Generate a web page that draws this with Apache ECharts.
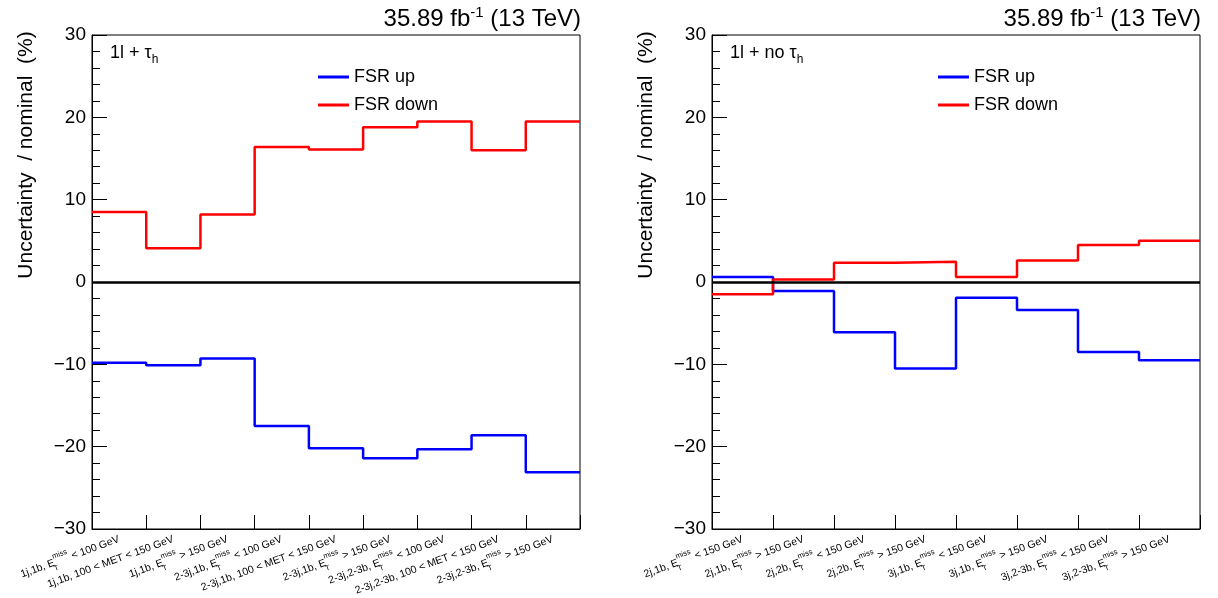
<!DOCTYPE html>
<html>
<head>
<meta charset="utf-8">
<script src="https://cdn.jsdelivr.net/npm/echarts@6.0.0/dist/echarts.min.js"></script>
<style>
  html, body { margin: 0; padding: 0; background: #fff; }
</style>
</head>
<body>
<div id="main" style="width:1218px;height:598px;"></div>
<script type="text/javascript">
// bin labels
var leftLabels = [
  '1j,1b, E_T^miss < 100 GeV', '1j,1b, 100 < MET < 150 GeV', '1j,1b, E_T^miss > 150 GeV',
  '2-3j,1b, E_T^miss < 100 GeV', '2-3j,1b, 100 < MET < 150 GeV', '2-3j,1b, E_T^miss > 150 GeV',
  '2-3j,2-3b, E_T^miss < 100 GeV', '2-3j,2-3b, 100 < MET < 150 GeV', '2-3j,2-3b, E_T^miss > 150 GeV'
];
var rightLabels = [
  '2j,1b, E_T^miss < 150 GeV', '2j,1b, E_T^miss > 150 GeV', '2j,2b, E_T^miss < 150 GeV',
  '2j,2b, E_T^miss > 150 GeV', '3j,1b, E_T^miss < 150 GeV', '3j,1b, E_T^miss > 150 GeV',
  '3j,2-3b, E_T^miss < 150 GeV', '3j,2-3b, E_T^miss > 150 GeV'
];

// uncertainty / nominal (%) per bin
var leftUp    = [-9.8, -10.1, -9.3, -17.5, -20.2, -21.4, -20.3, -18.6, -23.1];
var leftDown  = [8.5, 4.1, 8.2, 16.4, 16.1, 18.8, 19.5, 16.0, 19.5];
var rightUp   = [0.6, -1.1, -6.1, -10.5, -1.9, -3.4, -8.5, -9.5];
var rightDown = [-1.5, 0.3, 2.35, 2.45, 0.6, 2.6, 4.5, 5.0];

var yTicks = [-30, -20, -10, 0, 10, 20, 30];

var FONT = '"Liberation Sans", Arial, Helvetica, sans-serif';

// histogram outline: one point per lower bin edge, plus the last upper edge
function steps(vals) {
  var pts = vals.map(function (v, i) { return [i, v]; });
  pts.push([vals.length, vals[vals.length - 1]]);
  return pts;
}

function binLabel(s) {
  return s.split('E_T^miss').map(function (p) { return '{n|' + p + '}'; })
    .join('{n|E}{t|T}{m|miss}');
}

var labelRich = {
  n: { fontSize: 10.5, fontFamily: FONT, color: '#000', lineHeight: 20 },
  t: { fontSize: 7.5, fontFamily: FONT, color: '#000', verticalAlign: 'bottom', lineHeight: 20, width: 0.01, align: 'left' },
  m: { fontSize: 7.5, fontFamily: FONT, color: '#000', verticalAlign: 'top', lineHeight: 20 }
};

var panels = [
  { left: 92, labels: leftLabels, up: leftUp, down: leftDown, tag: '1l + τ' },
  { left: 712, labels: rightLabels, up: rightUp, down: rightDown, tag: '1l + no τ' }
];

var W = 488, TOP = 35, H = 494;

var grid = [], xAxis = [], yAxis = [], series = [], legend = [], graphic = [];

panels.forEach(function (p, k) {
  var nb = p.labels.length;
  grid.push({
    left: p.left, top: TOP, width: W, height: H,
    show: true, borderColor: '#000', borderWidth: 1, backgroundColor: 'transparent',
    outerBoundsMode: 'none', containLabel: false
  });
  // value axis: bin edges
  xAxis.push({
    type: 'value', gridIndex: k, min: 0, max: nb, interval: 1, position: 'bottom',
    axisLine: { onZero: false, lineStyle: { color: '#000', width: 1 } },
    axisTick: { inside: true, length: 14, lineStyle: { color: '#000', width: 1 } },
    axisLabel: { show: false },
    splitLine: { show: false }
  });
  // category axis: labels at bin centres
  xAxis.push({
    type: 'category', gridIndex: k, data: p.labels, position: 'bottom', boundaryGap: true,
    axisLine: { show: false, onZero: false },
    axisTick: { show: false },
    splitLine: { show: false },
    axisLabel: {
      interval: 0, rotate: 20, margin: 10,
      formatter: binLabel, rich: labelRich
    }
  });
  yAxis.push({
    type: 'value', gridIndex: k, min: yTicks[0], max: yTicks[yTicks.length - 1], interval: 10,
    axisLine: { show: true, onZero: false, lineStyle: { color: '#000', width: 1 } },
    axisTick: { show: true, inside: true, length: 15, lineStyle: { color: '#000', width: 1 } },
    minorTick: { show: true, splitNumber: 5, length: 8, lineStyle: { color: '#000', width: 1 } },
    axisLabel: {
      color: '#000', fontSize: 19, fontFamily: FONT, margin: 6,
      formatter: function (v) { return v < 0 ? '\u2212' + Math.abs(v) : String(v); }
    },
    splitLine: { show: false }
  });
  series.push({
    name: 'FSR up', type: 'line', xAxisIndex: 2 * k, yAxisIndex: k, step: 'end',
    data: steps(p.up), showSymbol: false, symbol: 'none',
    lineStyle: { color: '#0000ff', width: 2.5 }, itemStyle: { color: '#0000ff' },
    z: 3,
    markLine: {
      silent: true, symbol: ['none', 'none'], label: { show: false },
      lineStyle: { color: '#000', width: 2.5, type: 'solid' },
      data: [{ yAxis: 0 }]
    }
  });
  series.push({
    name: 'FSR down', type: 'line', xAxisIndex: 2 * k, yAxisIndex: k, step: 'end',
    data: steps(p.down), showSymbol: false, symbol: 'none',
    lineStyle: { color: '#ff0000', width: 2.5 }, itemStyle: { color: '#ff0000' },
    z: 3
  });
  legend.push({
    left: p.left + 221, top: 62, orient: 'vertical',
    data: ['FSR up', 'FSR down'],
    icon: 'rect', itemWidth: 31, itemHeight: 3, itemGap: 8,
    textStyle: { fontSize: 18, fontFamily: FONT, color: '#000', lineHeight: 20 },
    selectedMode: false
  });
  // header
  graphic.push({
    type: 'text', x: p.left + W + 1, y: 19,
    style: {
      text: '{a|35.89 fb}{s|-1}{a| (13 TeV)}',
      align: 'right', verticalAlign: 'middle',
      rich: {
        a: { fontSize: 24, fontFamily: FONT, fill: '#000', lineHeight: 28 },
        s: { fontSize: 15, fontFamily: FONT, fill: '#000', verticalAlign: 'top', lineHeight: 28 }
      }
    }
  });
  graphic.push({
    type: 'text', x: p.left + 18, y: 53,
    style: {
      text: '{a|' + p.tag + '}{b|h}',
      align: 'left', verticalAlign: 'middle',
      rich: {
        a: { fontSize: 18, fontFamily: FONT, fill: '#000', lineHeight: 26 },
        b: { fontSize: 12, fontFamily: FONT, fill: '#000', verticalAlign: 'bottom', lineHeight: 26 }
      }
    }
  });
  graphic.push({
    type: 'text', x: p.left - 66, y: 155, rotation: Math.PI / 2,
    style: {
      text: 'Uncertainty  / nominal  (%)',
      align: 'center', verticalAlign: 'middle',
      fontSize: 21, fontFamily: FONT, fill: '#000'
    }
  });
});

var myChart = echarts.init(document.getElementById('main'));
myChart.setOption({
  animation: false,
  backgroundColor: '#fff',
  textStyle: { fontFamily: FONT },
  grid: grid,
  xAxis: xAxis,
  yAxis: yAxis,
  legend: legend,
  graphic: graphic,
  series: series
});
</script>
</body>
</html>
